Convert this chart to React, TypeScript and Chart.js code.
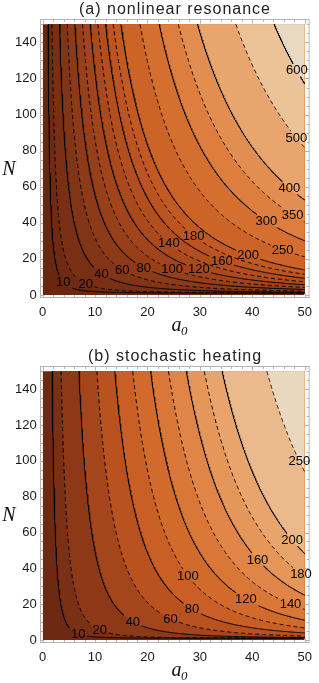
import React, { useEffect, useRef } from 'react';
import { Chart, registerables } from 'chart.js';

Chart.register(...registerables);

const SANS = '"Liberation Sans", Arial, Helvetica, sans-serif';
const SERIF = '"Liberation Serif", "Times New Roman", serif';

// ---------------- data ----------------
const X_TICKS = [0, 10, 20, 30, 40, 50];
const Y_TICKS = [0, 20, 40, 60, 80, 100, 120, 140];
const X_MINOR_STEP = 2;
const Y_MINOR_STEP = 5;
const A0_RANGE = [0, 50];
const N_RANGE = [0, 150];

// (a) nonlinear resonance
const TITLE_A = '(a) nonlinear resonance';
const LEVELS_A = [10, 20, 40, 60, 80, 100, 120, 140, 160, 180, 200, 250, 300, 350, 400, 500, 600];
const LABEL_A0_A = [3.9, 8.2, 11.2, 15.2, 19.3, 24.7, 29.8, 24.1, 34.2, 28.8, 39.2, 45.8, 42.7, 47.7, 47.1, 48.4, 48.5];
// field: value = k * (a0 - a0Shift) * (N - nShift)^power
const FIELD_A = { k: 1.12, a0Shift: 0.3, nShift: 1, power: 0.5 };

// (b) stochastic heating
const TITLE_B = '(b) stochastic heating';
const LEVELS_B = [10, 20, 40, 60, 80, 100, 120, 140, 160, 180, 200, 250];
const LABEL_A0_B = [6.8, 10.9, 17.2, 24.4, 28.5, 27.7, 38.8, 47.3, 41, 49.3, 47.6, 49.0];
const FIELD_B = { k: 1.123, a0Shift: 0.1, nShift: 1, power: 0.33 };

// colour scale (sienna tones), position in [0,1] of the value range
const COLOR_STOPS: [number, string][] = [
  [0.0, '#66260f'],
  [0.05, '#7a3015'],
  [0.1, '#8c3918'],
  [0.17, '#a4451b'],
  [0.24, '#b9521f'],
  [0.31, '#c95f24'],
  [0.4, '#d56e2f'],
  [0.5, '#df8243'],
  [0.6, '#e69a5e'],
  [0.7, '#eaad78'],
  [0.8, '#ecc094'],
  [0.9, '#ead3b5'],
  [1.0, '#e7e0d4'],
];

// ---------------- layout / style ----------------
const WIDTH = 319;
const FRAME_LEFT = 40.5;
const RIGHT_PAD = 7.5;
const X_MIN = -0.42;
const X_MAX = 50.85;
const Y_MIN = -1.4;
const Y_MAX = 152.7;
const FRAME_COLOR = '#b4b4b4';
const TEXT_COLOR = '#1a1a1a';

type Field = { k: number; a0Shift: number; nShift: number; power: number };

function fieldValue(f: Field, a0: number, n: number) {
  if (a0 <= f.a0Shift || n <= f.nShift) return 0;
  return f.k * (a0 - f.a0Shift) * Math.pow(n - f.nShift, f.power);
}
function contourN(f: Field, level: number, a0: number) {
  return f.nShift + Math.pow(level / (f.k * (a0 - f.a0Shift)), 1 / f.power);
}
function contourA0(f: Field, level: number, n: number) {
  return f.a0Shift + level / (f.k * Math.pow(n - f.nShift, f.power));
}
function contourPoints(f: Field, level: number) {
  const uTop = Math.log(N_RANGE[1] - f.nShift);
  const uEnd = Math.log(contourN(f, level, A0_RANGE[1]) - f.nShift);
  const count = 320;
  const pts: { x: number; y: number }[] = [];
  for (let j = 0; j <= count; j++) {
    const n = f.nShift + Math.exp(uTop + ((uEnd - uTop) * j) / count);
    pts.push({ x: contourA0(f, level, n), y: n });
  }
  return pts;
}

function hexToRgb(h: string) {
  const v = parseInt(h.slice(1), 16);
  return [(v >> 16) & 255, (v >> 8) & 255, v & 255];
}
function colorAt(t: number) {
  const tt = Math.max(0, Math.min(1, t));
  for (let i = 1; i < COLOR_STOPS.length; i++) {
    const [t1, c1] = COLOR_STOPS[i];
    const [t0, c0] = COLOR_STOPS[i - 1];
    if (tt <= t1) {
      const r = (tt - t0) / (t1 - t0);
      const a = hexToRgb(c0);
      const b = hexToRgb(c1);
      const m = a.map((x, k) => Math.round(x + (b[k] - x) * r));
      return `rgb(${m[0]},${m[1]},${m[2]})`;
    }
  }
  return COLOR_STOPS[COLOR_STOPS.length - 1][1];
}
function bandColors(levels: number[], f: Field) {
  const fmax = fieldValue(f, A0_RANGE[1], N_RANGE[1]);
  const edges = [0, ...levels, fmax];
  const out: string[] = [];
  for (let i = 0; i < edges.length - 1; i++) out.push(colorAt((edges[i] + edges[i + 1]) / 2 / fmax));
  return out;
}

type Spec = {
  title: string;
  levels: number[];
  labelA0: number[];
  field: Field;
  height: number;
  top: number;
  frameTop: number;
  bottomSpace: number;
};

const PANEL_A: Spec = {
  title: TITLE_A, levels: LEVELS_A, labelA0: LABEL_A0_A, field: FIELD_A,
  height: 345, top: 0, frameTop: 19.5, bottomSpace: 47.5,
};
const PANEL_B: Spec = {
  title: TITLE_B, levels: LEVELS_B, labelA0: LABEL_A0_B, field: FIELD_B,
  height: 338, top: 345, frameTop: 21.5, bottomSpace: 40.5,
};

function labelBox(chart: any, spec: Spec, i: number) {
  const lvl = spec.levels[i];
  const a = spec.labelA0[i];
  const n = contourN(spec.field, lvl, a);
  const x = chart.scales.x.getPixelForValue(a);
  const y = chart.scales.y.getPixelForValue(n);
  const text = String(lvl);
  return { x, y, hw: text.length * 3.62 + 1.5, hh: 6.5, text };
}

function buildConfig(spec: Spec): any {
  const colors = bandColors(spec.levels, spec.field);
  const datasets: any[] = [];
  datasets.push({
    data: [{ x: A0_RANGE[0], y: N_RANGE[0] }, { x: A0_RANGE[1], y: N_RANGE[0] }],
    borderColor: 'rgba(0,0,0,0)',
    borderWidth: 1,
    backgroundColor: colors[0],
    fill: { value: N_RANGE[1] },
    pointRadius: 0,
    order: 1000,
  });
  spec.levels.forEach((lvl, i) => {
    const pts = contourPoints(spec.field, lvl);
    datasets.push({
      data: pts,
      borderColor: 'rgba(0,0,0,0)',
      borderWidth: 1,
      backgroundColor: colors[i + 1],
      fill: { value: N_RANGE[1] },
      pointRadius: 0,
      order: 500 - i,
    });
    datasets.push({
      data: pts,
      borderColor: '#000',
      borderWidth: 1,
      borderDash: i % 2 === 1 ? [4, 3] : [],
      fill: false,
      pointRadius: 0,
      order: 0,
      segment: {
        borderColor: (ctx: any) => {
          const b = labelBox(ctx.chart, spec, i);
          const mx = (ctx.p0.x + ctx.p1.x) / 2;
          const my = (ctx.p0.y + ctx.p1.y) / 2;
          return Math.abs(mx - b.x) < b.hw && Math.abs(my - b.y) < b.hh ? 'rgba(0,0,0,0)' : undefined;
        },
      },
    });
  });

  const framePlugin = {
    id: 'frameTicks',
    beforeDatasetsDraw(chart: any) {
      const { ctx, chartArea: ca, scales } = chart;
      ctx.save();
      ctx.strokeStyle = FRAME_COLOR;
      ctx.lineWidth = 1;
      ctx.strokeRect(ca.left, ca.top, ca.right - ca.left, ca.bottom - ca.top);
      ctx.beginPath();
      for (let v = A0_RANGE[0]; v <= A0_RANGE[1] + 1e-9; v += X_MINOR_STEP) {
        const len = X_TICKS.includes(v) ? 4 : 2.5;
        const px = Math.round(scales.x.getPixelForValue(v)) + 0.5;
        ctx.moveTo(px, ca.bottom);
        ctx.lineTo(px, ca.bottom - len);
        ctx.moveTo(px, ca.top);
        ctx.lineTo(px, ca.top + len);
      }
      for (let v = N_RANGE[0]; v <= N_RANGE[1] + 1e-9; v += Y_MINOR_STEP) {
        const len = Y_TICKS.includes(v) ? 4 : 2.5;
        const py = Math.round(scales.y.getPixelForValue(v)) + 0.5;
        ctx.moveTo(ca.left, py);
        ctx.lineTo(ca.left + len, py);
        ctx.moveTo(ca.right, py);
        ctx.lineTo(ca.right - len, py);
      }
      ctx.stroke();
      ctx.restore();
    },
  };

  const labelPlugin = {
    id: 'contourLabels',
    afterDatasetsDraw(chart: any) {
      const { ctx } = chart;
      ctx.save();
      ctx.font = `13px ${SANS}`;
      ctx.fillStyle = '#000';
      ctx.textAlign = 'center';
      ctx.textBaseline = 'middle';
      spec.levels.forEach((_, i) => {
        const b = labelBox(chart, spec, i);
        ctx.fillText(b.text, b.x, b.y + 0.5);
      });
      ctx.restore();
    },
  };

  const decorPlugin = {
    id: 'decor',
    afterDraw(chart: any) {
      const { ctx, chartArea: ca } = chart;
      ctx.save();
      // title
      ctx.fillStyle = '#222';
      ctx.font = `16px ${SANS}`;
      try { (ctx as any).letterSpacing = '1px'; } catch (e) { /* ignore */ }
      ctx.textAlign = 'center';
      ctx.textBaseline = 'middle';
      ctx.fillText(spec.title, 175, spec.frameTop - 10);
      try { (ctx as any).letterSpacing = '0px'; } catch (e) { /* ignore */ }
      // y label N
      ctx.fillStyle = '#111';
      ctx.font = `italic 20px ${SERIF}`;
      ctx.textAlign = 'center';
      ctx.textBaseline = 'middle';
      ctx.fillText('N', 9, (ca.top + ca.bottom) / 2 + 11.5);
      // x label a0
      ctx.textAlign = 'left';
      ctx.textBaseline = 'alphabetic';
      const base = ca.bottom + 33.5;
      const ax = 171.5;
      ctx.fillText('a', ax, base);
      const w = ctx.measureText('a').width;
      ctx.font = `italic 13px ${SERIF}`;
      ctx.fillText('0', ax + w - 0.5, base + 4);
      ctx.restore();
    },
  };

  return {
    type: 'line',
    data: { datasets },
    options: {
      animation: false,
      responsive: false,
      maintainAspectRatio: false,
      devicePixelRatio: 1,
      events: [],
      layout: { padding: { left: 0, right: RIGHT_PAD, top: spec.frameTop, bottom: 0 } },
      plugins: { legend: { display: false }, tooltip: { enabled: false }, title: { display: false } },
      elements: { point: { radius: 0, hitRadius: 0 }, line: { tension: 0 } },
      scales: {
        x: {
          type: 'linear',
          min: X_MIN,
          max: X_MAX,
          grid: { display: false, drawTicks: false },
          border: { display: false },
          ticks: { font: { family: SANS, size: 13 }, color: TEXT_COLOR, padding: 7, autoSkip: false, maxRotation: 0, minRotation: 0 },
          afterBuildTicks: (s: any) => { s.ticks = X_TICKS.map((v) => ({ value: v })); },
          afterFit: (s: any) => { s.height = spec.bottomSpace; },
        },
        y: {
          type: 'linear',
          min: Y_MIN,
          max: Y_MAX,
          grid: { display: false, drawTicks: false },
          border: { display: false },
          ticks: { font: { family: SANS, size: 13 }, color: TEXT_COLOR, padding: 3.8, autoSkip: false },
          afterBuildTicks: (s: any) => { s.ticks = Y_TICKS.map((v) => ({ value: v })); },
          afterFit: (s: any) => { s.width = FRAME_LEFT; },
        },
      },
    },
    plugins: [framePlugin, labelPlugin, decorPlugin],
  };
}

function Panel({ spec }: { spec: Spec }) {
  const ref = useRef<HTMLCanvasElement | null>(null);
  useEffect(() => {
    if (!ref.current) return;
    const chart = new Chart(ref.current, buildConfig(spec));
    return () => chart.destroy();
  }, [spec]);
  return (
    <canvas
      ref={ref}
      width={WIDTH}
      height={spec.height}
      style={{ position: 'absolute', left: 0, top: spec.top, width: WIDTH, height: spec.height }}
    />
  );
}

export default function App() {
  return (
    <div style={{ position: 'absolute', left: 0, top: 0, width: WIDTH, height: 683, background: '#fff' }}>
      <Panel spec={PANEL_A} />
      <Panel spec={PANEL_B} />
    </div>
  );
}
